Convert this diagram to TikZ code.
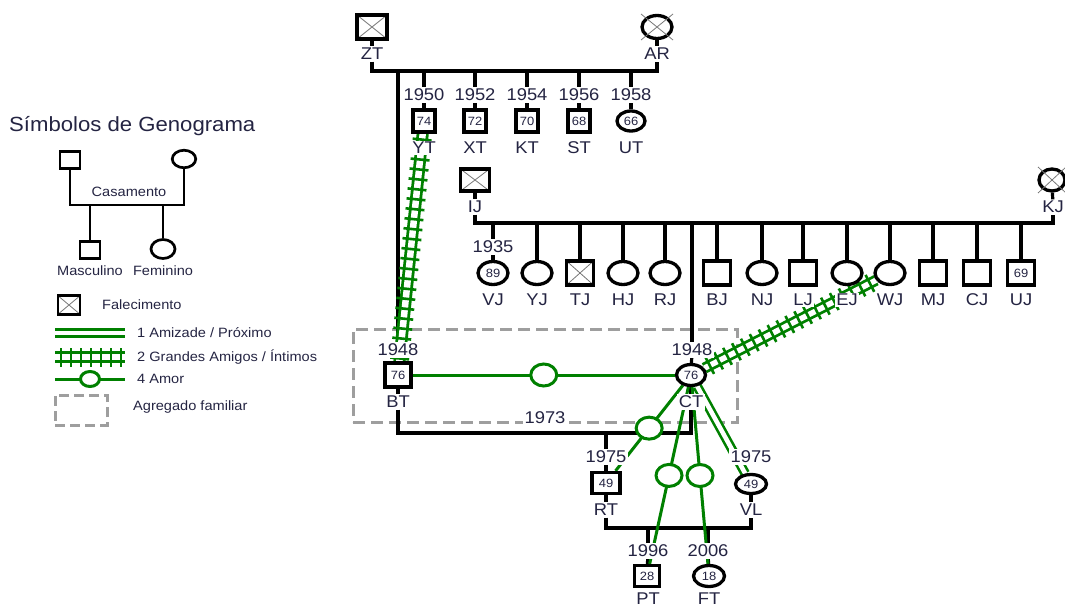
\documentclass[tikz,border=0pt]{standalone}
\usepackage{fontspec}
\setmainfont{Liberation Sans}[FakeStretch=1.08]
\usetikzlibrary{shapes.geometric,decorations.markings,backgrounds}
\definecolor{grn}{RGB}{0,128,0}
\definecolor{txt}{RGB}{36,36,66}
\definecolor{boxgray}{RGB}{158,158,158}
\definecolor{xgray}{RGB}{120,120,120}
\newcommand{\fsz}[1]{\fontsize{#1}{#1}\selectfont}
\begin{document}
\begin{tikzpicture}[x=1pt,y=-1pt,
 sym/.style={draw=black,line width=3.3pt,fill=white,inner sep=0pt,text=txt,font=\fsz{12}},
 male/.style={sym,rectangle,minimum width=26pt,minimum height=23pt},
 female/.style={sym,ellipse,minimum width=30pt,minimum height=22pt},
 dead/.style={path picture={\draw[xgray,line width=0.8pt] (path picture bounding box.north west) -- (path picture bounding box.south east) (path picture bounding box.north east) -- (path picture bounding box.south west);}},
 lab/.style={text=txt,font=\fsz{17},inner sep=1.5pt,fill=white},
 leg/.style={text=txt,font=\fsz{13.5},inner sep=0pt,anchor=west},
 fam/.style={draw=black,line width=3.2pt},
 lsym/.style={line width=2.7pt},
 love/.style={draw=grn,line width=3pt},
 lovec/.style={ellipse,draw=grn,line width=3pt,fill=white,minimum width=26pt,minimum height=22pt,inner sep=0pt},
 friendA/.style={draw=grn,line width=2.6pt,double=white,double distance=4.5pt},
 friendB/.style={draw=grn,line width=2.8pt,double=white,double distance=5.5pt},
 rungs/.style={decorate,decoration={markings,mark=between positions 6pt and 1 step 10pt with {\draw[grn,line width=2.6pt] (0pt,-9.5pt) -- (0pt,9.5pt);}}},
 aggbox/.style={draw=boxgray,line width=3pt,dash pattern=on 12pt off 6pt,inner sep=0pt},
 xmark/.style={draw=xgray,line width=0.8pt},
]
\useasboundingbox (0,0) rectangle (1065,607);

% ---------- legend ----------
\node[leg,font=\fsz{20.5}] (ttl) at (9,126) {Símbolos de Genograma};
\node[male,lsym,minimum width=20pt,minimum height=17.5pt] (LM) at (70,160) {};
\node[female,lsym,minimum width=23.5pt,minimum height=17.5pt] (LF) at (184,159) {};
\coordinate (Lmar) at (127,205);
\node[leg,anchor=center] (Lcas) at (129,192) {Casamento};
\node[male,lsym,minimum width=20pt,minimum height=17pt] (LC1) at (90,250) {};
\node[female,lsym,minimum width=24pt,minimum height=19pt] (LC2) at (163,249) {};
\node[leg,anchor=center] (LC1l) at (90,271) {Masculino};
\node[leg,anchor=center] (LC2l) at (163,271) {Feminino};
\node[male,dead,lsym,minimum width=22pt,minimum height=18.5pt] (LD) at (69,305) {};
\node[leg] (LDl) at (102,305) {Falecimento};
\coordinate (LA1) at (55,333); \coordinate (LA2) at (125,333);
\node[leg] (LAl) at (137,333) {1 Amizade / Próximo};
\coordinate (LB1) at (55,357); \coordinate (LB2) at (125,357);
\node[leg] (LBl) at (137,357) {2 Grandes Amigos / Íntimos};
\coordinate (LL1) at (55,379); \coordinate (LL2) at (125,379);
\node[leg] (LLl) at (137,379) {4 Amor};
\node[aggbox,dash pattern=on 10pt off 5pt,minimum width=52pt,minimum height=30pt] (LG) at (81,410) {};
\node[leg] (LGl) at (133,407) {Agregado familiar};

% ---------- generation 1 ----------
\node[male,dead,minimum width=30pt,minimum height=24pt] (ZT) at (372,27) {};
\node[lab] (ZT-l) at (372,54) {ZT};
\node[female,minimum width=30pt,minimum height=23pt] (AR) at (657,27) {};
\draw[xmark] ([shift={(-16,-13)}]AR.center) -- ([shift={(16,13)}]AR.center)
             ([shift={(16,-13)}]AR.center) -- ([shift={(-16,13)}]AR.center);
\node[lab] (AR-l) at (657,54) {AR};
\coordinate (m1) at (515,71);

\foreach \nm/\x/\yy/\a in {YT/424/1950/74,XT/475/1952/72,KT/527/1954/70,ST/579/1956/68}{
  \node[lab] (\nm-y) at (\x,95) {\yy};
  \node[male,minimum width=22pt,minimum height=22pt] (\nm) at (\x,121) {\a};
  \node[lab] (\nm-l) at (\x,148) {\nm};
}
\node[lab] (UT-y) at (631,95) {1958};
\node[female,minimum width=28pt,minimum height=20pt] (UT) at (631,121) {66};
\node[lab] (UT-l) at (631,148) {UT};

\node[lab] (BT-y) at (398,350) {1948};
\node[male,minimum width=26pt,minimum height=24pt] (BT) at (398,375) {76};
\node[lab] (BT-l) at (398,402) {BT};

% ---------- IJ x KJ ----------
\node[male,dead,minimum width=29pt,minimum height=22pt] (IJ) at (475,180) {};
\node[lab] (IJ-l) at (475,207) {IJ};
\node[female,minimum width=26pt,minimum height=22pt] (KJ) at (1052,180) {};
\draw[xmark] ([shift={(-14,-13)}]KJ.center) -- ([shift={(14,13)}]KJ.center)
             ([shift={(14,-13)}]KJ.center) -- ([shift={(-14,13)}]KJ.center);
\node[lab] (KJ-l) at (1053,207) {KJ};
\coordinate (m2) at (760,223);

\node[lab] (VJ-y) at (493,247) {1935};
\node[female,minimum width=30pt,minimum height=23pt] (VJ) at (493,273) {89};
\node[lab] (VJ-l) at (493,300) {VJ};
\foreach \nm/\x in {YJ/537,HJ/623,RJ/665,NJ/762,EJ/847,WJ/890}{
  \node[female,minimum width=30pt,minimum height=23pt] (\nm) at (\x,273) {};
  \node[lab] (\nm-l) at (\x,300) {\nm};
}
\foreach \nm/\x in {BJ/717,LJ/803,MJ/933,CJ/977}{
  \node[male,minimum width=27pt,minimum height=24pt] (\nm) at (\x,273) {};
  \node[lab] (\nm-l) at (\x,300) {\nm};
}
\node[male,dead,minimum width=27pt,minimum height=24pt] (TJ) at (580,273) {};
\node[lab] (TJ-l) at (580,300) {TJ};
\node[male,minimum width=27pt,minimum height=24pt] (UJ) at (1021,273) {69};
\node[lab] (UJ-l) at (1021,300) {UJ};

\node[lab] (CT-y) at (692,350) {1948};
\node[female,minimum width=29pt,minimum height=21pt] (CT) at (691,375) {76};
\node[lab] (CT-l) at (691,402) {CT};

% ---------- BT x CT ----------
\coordinate (m3) at (545,433);
\node[lab] (yr73) at (545,418) {1973};
\node[lab] (RT-y) at (606,457) {1975};
\node[male,minimum width=28pt,minimum height=21pt] (RT) at (606,483) {49};
\node[lab] (RT-l) at (606,510) {RT};
\node[lab] (VL-y) at (751,457) {1975};
\node[female,minimum width=31pt,minimum height=19pt] (VL) at (751,484) {49};
\node[lab] (VL-l) at (751,510) {VL};
\coordinate (m4) at (680,528);
\node[lab] (PT-y) at (648,551) {1996};
\node[male,minimum width=25pt,minimum height=21pt] (PT) at (647,576) {28};
\node[lab] (PT-l) at (648,599) {PT};
\node[lab] (FT-y) at (708,551) {2006};
\node[female,minimum width=31pt,minimum height=21pt] (FT) at (709,576) {18};
\node[lab] (FT-l) at (709,599) {FT};

% ---------- connectors ----------
\begin{pgfonlayer}{background}
\node[aggbox,minimum width=384pt,minimum height=93pt] (HH) at (545,375.5) {};
% family lines
\draw[fam] (ZT) -- (ZT-l);
\draw[fam] (AR) -- (AR-l);
\draw[fam] (ZT-l.south) |- (m1) -| (AR-l.south);
\foreach \nm in {YT,XT,KT,ST,UT,BT}{
  \draw[fam] (\nm-y.north |- m1) -- (\nm-y.north);
  \draw[fam] (\nm-y) -- (\nm);
}
\draw[fam] (IJ) -- (IJ-l);
\draw[fam] (KJ) -- (KJ-l);
\draw[fam] (IJ-l.south) |- (m2) -| (KJ-l.south);
\draw[fam] (VJ-y.north |- m2) -- (VJ-y.north);
\draw[fam] (VJ-y) -- (VJ);
\foreach \nm in {YJ,TJ,HJ,RJ,BJ,NJ,LJ,EJ,WJ,MJ,CJ,UJ}{
  \draw[fam] (\nm.north |- m2) -- (\nm.north);
}
\draw[fam] (CT-y.north |- m2) -- (CT-y.north);
\draw[fam] (CT-y) -- (CT);
\draw[fam] (BT) -- (BT-l);
\draw[fam] (CT) -- (CT-l);
\draw[fam] (BT-l.south) |- (m3) -| (CT-l.south);
\draw[fam] (RT-y.north |- m3) -- (RT-y.north);
\draw[fam] (RT-y) -- (RT);
\draw[fam] (RT) -- (RT-l);
\draw[fam] (VL) -- (VL-l);
\draw[fam] (RT-l.south) |- (m4) -| (VL-l.south);
\draw[fam] (PT-y.north |- m4) -- (PT-y.north);
\draw[fam] (PT-y) -- (PT);
\draw[fam] (FT-y.north |- m4) -- (FT-y.north);
\draw[fam] (FT-y) -- (FT);
% legend lines
\draw[fam,lsym] (LM.south) |- (Lmar) -| (LF.south);
\draw[fam,lsym] (LC1.north |- Lmar) -- (LC1.north);
\draw[fam,lsym] (LC2.north |- Lmar) -- (LC2.north);
\draw[friendA] (LA1) -- (LA2);
\draw[friendB] (LB1) -- (LB2);
\path[rungs] (LB1) -- (LB2);
\draw[love] (LL1) -- node[lovec,minimum width=19pt,minimum height=15pt] (LLc) {} (LL2);
% relationship lines
\draw[friendB,double distance=6.5pt] (YT) -- (BT);
\path[rungs] (YT) -- (BT);
\draw[friendB] (CT) -- (WJ);
\path[rungs] (CT) -- (WJ);
\draw[love] (BT) -- node[lovec] (c1) {} (CT);
\draw[love] (CT) -- node[lovec] (c2) {} (RT);
\draw[love] (CT) -- node[lovec] (c3) {} (PT);
\draw[love] (CT) -- node[lovec] (c4) {} (FT);
\draw[friendA] (CT) -- (VL);
\end{pgfonlayer}
\end{tikzpicture}
\end{document}
